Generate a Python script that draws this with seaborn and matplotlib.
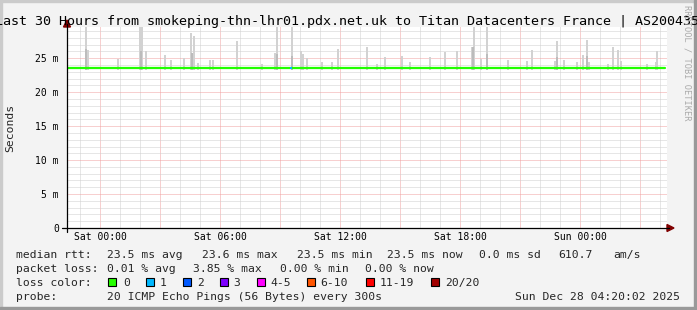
import numpy as np
import pandas as pd
import matplotlib
matplotlib.use("Agg")
import matplotlib.pyplot as plt
from matplotlib.ticker import MultipleLocator
from matplotlib.patches import Polygon, Rectangle
from matplotlib.lines import Line2D
import seaborn as sns

# ---------------- data ----------------
title = "Last 30 Hours from smokeping-thn-lhr01.pdx.net.uk to Titan Datacenters France | AS200435"
tick_hours = [0, 6, 12, 18, 24]
tick_labels = ["Sat 00:00", "Sat 06:00", "Sat 12:00", "Sat 18:00", "Sun 00:00"]
ytick_vals = [0, 5, 10, 15, 20, 25]
ytick_labels = ["0", "5 m", "10 m", "15 m", "20 m", "25 m"]

# smoke spikes (hours since Sat 00:00, top of smoke in ms)
smoke_hours = [-0.7, -0.6, 0.9, 2.0, 2.1, 2.3, 3.25, 3.55, 4.2, 4.55, 4.7, 4.9,
               5.5, 5.65, 6.85, 8.1, 8.75, 8.85, 9.6, 10.05, 10.15, 10.35, 11.1,
               11.6, 11.9, 13.35, 13.85, 14.25, 15.1, 15.5, 16.5, 17.25, 17.85,
               18.6, 18.7, 19.05, 19.35, 20.4, 21.35, 21.6, 22.75, 22.85, 23.2,
               23.85, 24.15, 24.35, 24.45, 25.4, 25.65, 25.9, 26.05, 27.35, 27.8,
               27.85]
smoke_top_ms = [30.0, 26.2, 24.9, 30.0, 30.0, 26.1, 25.5, 24.7, 25.0, 28.7, 28.3, 24.3,
                24.8, 24.8, 27.5, 24.2, 25.8, 30.0, 30.0, 26.1, 25.6, 25.1, 24.4,
                24.4, 26.3, 26.6, 24.2, 25.2, 25.3, 24.5, 25.2, 25.9, 26.1,
                26.6, 30.0, 24.9, 30.0, 24.7, 24.6, 26.2, 24.6, 27.5, 24.8,
                24.4, 25.5, 27.7, 24.4, 24.2, 26.6, 26.2, 24.6, 24.2, 24.5,
                26.1]
# darker inner smoke of the tallest spikes
inner_hours = [-0.7, 2.05, 4.6, 8.85, 9.6, 18.65, 19.35, 22.85, 24.35]
inner_top_ms = [26.3, 26.0, 25.8, 25.6, 25.4, 26.6, 25.6, 25.2, 25.4]
smoke_base_ms = 23.3

# median rtt, every half hour
median_ms = [23.5, 23.55, 23.5, 23.5, 23.6, 23.6, 23.5, 23.5, 23.55, 23.5,
             23.5, 23.6, 23.5, 23.5, 23.55, 23.5, 23.5, 23.5, 23.6, 23.5,
             23.5, 23.55, 23.5, 23.5, 23.5, 23.6, 23.5, 23.5, 23.55, 23.5,
             23.6, 23.5, 23.5, 23.5, 23.55, 23.5, 23.5, 23.6, 23.5, 23.5,
             23.5, 23.55, 23.5, 23.5, 23.5, 23.5, 23.6, 23.5, 23.5, 23.55,
             23.5, 23.5, 23.5, 23.6, 23.5, 23.5, 23.5, 23.55, 23.5, 23.5]
median_hours = list(np.arange(len(median_ms)) * 0.5 - 1.65)
median_end_hour = 28.25
loss1_hours = [9.55]
loss1_ms = [23.55]

loss_labels = ["0", "1", "2", "3", "4-5", "6-10", "11-19", "20/20"]
loss_colors = ["#26ff00", "#00b8ff", "#0059ff", "#7e00ff", "#ff00ff", "#ff5500", "#ff0000", "#a10000"]

rtt_items = ["median rtt:", "23.5 ms avg", "23.6 ms max", "23.5 ms min", "23.5 ms now",
             "0.0 ms sd", "610.7", "am/s"]
loss_items = ["packet loss:", "0.01 % avg", "3.85 % max", "0.00 % min", "0.00 % now"]
probe_items = ["probe:", "20 ICMP Echo Pings (56 Bytes) every 300s"]
date_text = "Sun Dec 28 04:20:02 2025"

# ---------------- layout ----------------
W, H = 697, 310
MONO = "DejaVu Sans Mono"
sns.set_style("white")
plt.rcParams["font.family"] = [MONO]

fig = plt.figure(figsize=(W / 100, H / 100), dpi=100, facecolor="#f3f3f3")
X0, X1, Y0, Y1 = 67, 667, 27, 228
ax = fig.add_axes([X0 / W, 1 - Y1 / H, (X1 - X0) / W, (Y1 - Y0) / H])
ax.set_facecolor("white")
for s in ax.spines.values():
    s.set_visible(False)

# smoke
heights = [t - smoke_base_ms for t in smoke_top_ms]
ax.bar(smoke_hours, heights, bottom=smoke_base_ms, width=0.14, color="#d2d2d2",
       linewidth=0, align="center", zorder=2)
iheights = [t - smoke_base_ms for t in inner_top_ms]
ax.bar(inner_hours, iheights, bottom=smoke_base_ms, width=0.1, color="#bcbcbc",
       linewidth=0, align="center", zorder=2)

# median line
mdf = pd.DataFrame({"hour": median_hours + [median_end_hour],
                    "ms": median_ms + [median_ms[-1]]})
sns.lineplot(data=mdf, x="hour", y="ms", ax=ax, estimator=None, color="#22ff00",
             linewidth=1.6, drawstyle="steps-post", zorder=3)
ax.bar(loss1_hours, [0.24] * len(loss1_hours), bottom=[v - 0.12 for v in loss1_ms],
       width=0.1, color="#00b8ff", linewidth=0, zorder=4)
ax.set_xlabel("")
ax.set_ylabel("")

# grid
ax.xaxis.set_major_locator(MultipleLocator(3))
ax.xaxis.set_minor_locator(MultipleLocator(1))
ax.yaxis.set_major_locator(MultipleLocator(5))
ax.yaxis.set_minor_locator(MultipleLocator(1))
ax.grid(which="minor", color="#cfcfcf", linestyle=(0, (1, 1)), linewidth=0.72)
ax.grid(which="major", color="#f0a0a0", linestyle=(0, (1, 1)), linewidth=0.72)
ax.set_axisbelow(True)

xt = [h for h in range(0, 28, 3)]
ax.set_xticks(xt)
ax.set_xticklabels([tick_labels[tick_hours.index(h)] if h in tick_hours else "" for h in xt])
ax.set_yticks(ytick_vals)
ax.set_yticklabels(ytick_labels)
ax.tick_params(axis="both", which="both", length=0, labelsize=7.05, colors="#000000")
ax.tick_params(axis="x", pad=3.2)
ax.tick_params(axis="y", pad=5.8)
ax.set_xlim(-1.65, 28.35)
ax.set_ylim(0, 29.6)


def P(x, y):
    return (x / W, 1 - y / H)


def ftext(x, y, s, **kw):
    kw.setdefault("family", MONO)
    fig.text(x / W, 1 - y / H, s, **kw)


# axis lines and arrows
fig.add_artist(Line2D([P(X0, 0)[0]] * 2, [P(0, 232)[1], P(0, 24)[1]], color="#000000",
                      linewidth=0.9, transform=fig.transFigure))
fig.add_artist(Line2D([P(62, 0)[0], P(669, 0)[0]], [P(0, Y1)[1]] * 2, color="#000000",
                      linewidth=0.9, transform=fig.transFigure))
fig.add_artist(Polygon([P(63.5, 27), P(70.5, 27), P(67, 20)], closed=True,
                       color="#800000", transform=fig.transFigure))
fig.add_artist(Polygon([P(667, 224.5), P(667, 231.5), P(674, 228)], closed=True,
                       color="#800000", transform=fig.transFigure))

# title and labels
ftext(347, 24.5, title, ha="center", va="baseline", fontsize=9.6, color="#000000")
ftext(10, 127.5, "Seconds", ha="center", va="center", rotation=90, fontsize=8.2)
ftext(687, 5, "RRDTOOL / TOBI OETIKER", ha="center", va="top", rotation=270,
      fontsize=6.2, color="#aaaaaa")

# legend
rtt_x = [16, 107, 202, 297, 387, 479, 558, 613]
for x, s in zip(rtt_x, rtt_items):
    ftext(x, 258, s, ha="left", va="baseline", fontsize=8.2)
loss_x = [16, 107, 193, 280, 365]
for x, s in zip(loss_x, loss_items):
    ftext(x, 272, s, ha="left", va="baseline", fontsize=8.2)
ftext(16, 286, "loss color:", ha="left", va="baseline", fontsize=8.2)
box_x = [108, 146, 183, 220, 257, 307, 366, 431]
lab_x = [123, 160, 197, 233, 270, 320, 380, 445]
for bx, lx, lab, col in zip(box_x, lab_x, loss_labels, loss_colors):
    fig.add_artist(Rectangle(P(bx, 286), 8 / W, 8 / H, facecolor=col, edgecolor="#000000",
                             linewidth=0.8, transform=fig.transFigure))
    ftext(lx, 286, lab, ha="left", va="baseline", fontsize=8.2)
ftext(16, 300, probe_items[0], ha="left", va="baseline", fontsize=8.2)
ftext(107, 300, probe_items[1], ha="left", va="baseline", fontsize=8.2)
ftext(680, 300, date_text, ha="right", va="baseline", fontsize=8.2)

# 3D frame
fig.add_artist(Rectangle((0, 1 - 2 / H), 1, 2 / H, color="#cbcbcb", transform=fig.transFigure))
fig.add_artist(Rectangle((0, 0), 2 / W, 1, color="#cbcbcb", transform=fig.transFigure))
fig.add_artist(Rectangle((0, 0), 1, 3 / H, color="#999999", transform=fig.transFigure))
fig.add_artist(Rectangle((1 - 3 / W, 0), 3 / W, 1, color="#999999", transform=fig.transFigure))

fig.savefig("out.png", dpi=100, facecolor=fig.get_facecolor())
